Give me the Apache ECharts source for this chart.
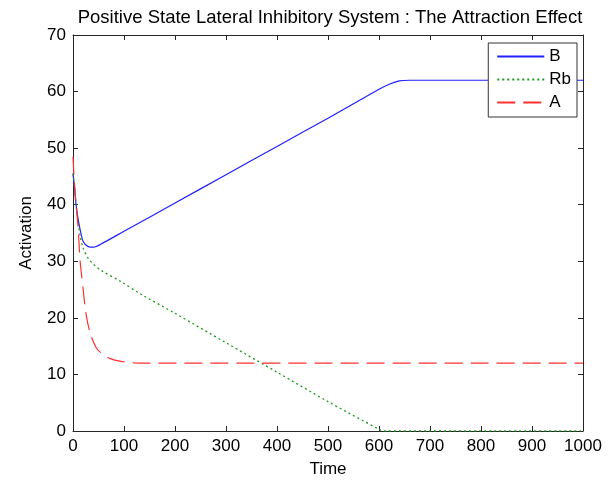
<!DOCTYPE html>
<html><head><meta charset="utf-8">
<script src="https://cdn.jsdelivr.net/npm/echarts@6/dist/echarts.min.js"></script>
<style>html,body{margin:0;padding:0;background:#fff}#c{width:611px;height:483px}</style>
</head><body><div id="c"></div>
<script>
var title = 'Positive State Lateral Inhibitory System : The Attraction Effect';
var seriesNames = ['B', 'Rb', 'A'];
var tB  = [0, 3, 6, 10, 14, 20, 30, 40, 60, 100, 200, 300, 400, 500, 600, 620, 640, 660, 1000];
var vB  = [45.5, 43, 40, 37.5, 35.6, 33.5, 32.6, 32.5, 33.3, 35.3, 40.3, 45.3, 50.3, 55.3, 60.4, 61.3, 61.9, 62, 62];
var tRb = [0, 3, 6, 10, 14, 20, 30, 40, 55, 94, 131, 200, 300, 400, 500, 600, 608, 1000];
var vRb = [45.5, 43, 40, 37, 34.5, 32.3, 30.5, 29.5, 28.4, 26.4, 24.3, 20.8, 15.6, 10.4, 5.2, 0.3, 0, 0];
var tA  = [0, 2, 6, 10, 14, 20, 25, 33, 45, 55, 73, 94, 120, 150, 1000];
var vA  = [48.5, 45, 40, 36, 30, 25, 21, 17.5, 14.8, 13.8, 12.8, 12.3, 12.05, 12, 12];
var xTicks = [0, 1000, 100];
var yTicks = [0, 70, 10];

function pairs(t, v) { return t.map(function (x, i) { return [x, v[i]]; }); }

var axisCol = '#262626';
var font = 'Liberation Sans, Arial, sans-serif';
var chart = echarts.init(document.getElementById('c'), null, {renderer: 'canvas'});
var baseAxis = {
  axisLine: {show: true, onZero: false, lineStyle: {color: axisCol, width: 1}},
  axisTick: {show: true, inside: true, length: 5, lineStyle: {color: axisCol}},
  splitLine: {show: false},
  axisLabel: {color: '#000', fontSize: 17, fontFamily: font, formatter: function (v) { return String(v); }}
};
chart.setOption({
  animation: false,
  title: {text: title, left: 325, top: 3, textAlign: 'center',
    textStyle: {fontSize: 18.5, fontWeight: 'normal', color: '#000', fontFamily: font}},
  grid: {left: 73, right: 28, top: 35, bottom: 47},
  legend: {
    orient: 'vertical', right: 34, top: 43, data: seriesNames,
    backgroundColor: '#fff', borderColor: '#333', borderWidth: 1,
    padding: [5, 6, 6, 8], itemGap: 6, itemWidth: 47, itemHeight: 16,
    itemStyle: {opacity: 0},
    textStyle: {fontSize: 17, color: '#000', fontFamily: font}
  },
  xAxis: [
    Object.assign({}, baseAxis, {type: 'value', min: xTicks[0], max: xTicks[1], interval: xTicks[2],
      position: 'bottom', name: 'Time', nameLocation: 'middle', nameGap: 30,
      nameTextStyle: {fontSize: 17, color: '#000', fontFamily: font},
      axisLabel: Object.assign({}, baseAxis.axisLabel, {margin: 7})}),
    Object.assign({}, baseAxis, {type: 'value', min: xTicks[0], max: xTicks[1], interval: xTicks[2],
      position: 'top', axisLabel: {show: false}})
  ],
  yAxis: [
    Object.assign({}, baseAxis, {type: 'value', min: yTicks[0], max: yTicks[1], interval: yTicks[2],
      position: 'left', name: 'Activation', nameLocation: 'middle', nameGap: 38,
      nameTextStyle: {fontSize: 17, color: '#000', fontFamily: font},
      axisLabel: Object.assign({}, baseAxis.axisLabel, {margin: 7})}),
    Object.assign({}, baseAxis, {type: 'value', min: yTicks[0], max: yTicks[1], interval: yTicks[2],
      position: 'right', axisLabel: {show: false}})
  ],
  series: [
    {name: seriesNames[0], type: 'line', data: pairs(tB, vB), showSymbol: false, symbol: 'none',
      smooth: 0.3, lineStyle: {color: '#2020ff', width: 1.2, type: 'solid'}, itemStyle: {color: '#2020ff'}},
    {name: seriesNames[1], type: 'line', data: pairs(tRb, vRb), showSymbol: false, symbol: 'none',
      smooth: 0.3, lineStyle: {color: '#1f9a1f', width: 1.3, type: [2, 3]}, itemStyle: {color: '#1f9a1f'}},
    {name: seriesNames[2], type: 'line', data: pairs(tA, vA), showSymbol: false, symbol: 'none',
      smooth: 0.3, lineStyle: {color: '#ff3030', width: 1.2, type: [18, 8]}, itemStyle: {color: '#ff3030'}}
  ]
});
</script></body></html>
